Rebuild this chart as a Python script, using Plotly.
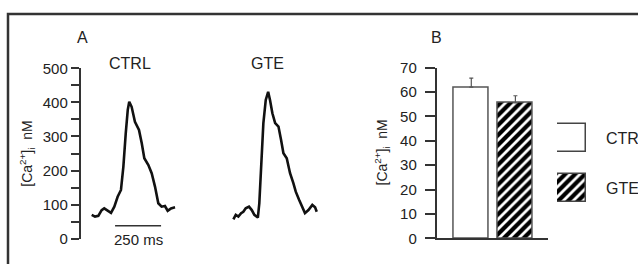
import plotly.graph_objects as go

# ---------------- data ----------------
# Panel A: representative [Ca2+]i transients (time in ms, nM)
CTRL_T = [0, 18, 36, 54, 68, 87, 105, 123, 141, 159, 172, 185, 196, 204, 217, 235, 257, 272,
          286, 308, 326, 344, 362, 380, 398, 413, 431, 453]
CTRL_CA = [70, 65, 67, 84, 89, 82, 76, 94, 123, 143, 211, 309, 378, 402, 387, 343, 319, 280,
           236, 216, 192, 153, 104, 94, 96, 82, 89, 92]

GTE_T = [0, 13, 27, 42, 54, 67, 85, 100, 114, 133, 141, 151, 163, 176, 189, 199, 212, 227,
         245, 259, 272, 290, 308, 326, 339, 357, 375, 389, 408, 429, 444, 453]
GTE_CA = [57, 70, 65, 75, 79, 89, 94, 84, 70, 62, 104, 221, 339, 407, 431, 407, 368, 339,
          329, 290, 251, 236, 192, 163, 138, 114, 89, 75, 84, 99, 92, 79]
GTE_OFFSET_MS = 770          # horizontal offset of the GTE trace in panel A

SCALE_START_MS = 127
SCALE_LEN_MS = 250
SCALE_Y = 38

# Panel B: mean diastolic [Ca2+]i
BAR_CATS = ["CTRL", "GTE"]
BAR_MEAN = [62.0, 55.6]
BAR_ERR = [3.7, 2.9]

A_YTICKS = [0, 100, 200, 300, 400, 500]
B_YTICKS = [0, 10, 20, 30, 40, 50, 60, 70]

# ---------------- layout helpers ----------------
W, H = 638, 264
def px(x): return x / W
def py(y): return 1 - y / H

FONT = "Liberation Sans, Arial, sans-serif"
TXT = "#222"
AX = "#333"
PATTERNS = ["", "/"]

fig = go.Figure()

# Panel A traces
fig.add_trace(go.Scatter(x=CTRL_T, y=CTRL_CA, mode="lines",
                         line=dict(color="#111", width=2.6),
                         xaxis="x", yaxis="y", showlegend=False, hoverinfo="skip"))
fig.add_trace(go.Scatter(x=[t + GTE_OFFSET_MS for t in GTE_T], y=GTE_CA, mode="lines",
                         line=dict(color="#111", width=2.6),
                         xaxis="x", yaxis="y", showlegend=False, hoverinfo="skip"))
# scale bar
fig.add_trace(go.Scatter(x=[SCALE_START_MS, SCALE_START_MS + SCALE_LEN_MS], y=[SCALE_Y, SCALE_Y],
                         mode="lines", line=dict(color="#333", width=1.4),
                         xaxis="x", yaxis="y", showlegend=False, hoverinfo="skip"))

# Panel B bars
pattern = dict(shape=PATTERNS, fgcolor="black", fgopacity=1, bgcolor="white", size=7, solidity=0.6)
fig.add_trace(go.Bar(x=BAR_CATS, y=BAR_MEAN, width=0.795,
                     marker=dict(color="white", line=dict(color="#555", width=1.5), pattern=pattern),
                     error_y=dict(type="data", array=BAR_ERR, arrayminus=[0] * len(BAR_ERR),
                                  symmetric=False, color="#555", thickness=1.2, width=2),
                     xaxis="x2", yaxis="y2", showlegend=False, hoverinfo="skip"))

# legend swatches
fig.add_trace(go.Bar(y=BAR_CATS, x=[1] * len(BAR_CATS), orientation="h", width=0.56,
                     marker=dict(color="white", line=dict(color="#444", width=1.5), pattern=pattern),
                     xaxis="x3", yaxis="y3", showlegend=False, hoverinfo="skip"))

ms_per_px = SCALE_LEN_MS / 46.0
a_left, a_right = 80.7, 330
a_x0 = (a_left - 91.7) * ms_per_px
a_x1 = a_x0 + (a_right - a_left) * ms_per_px

fig.update_layout(
    width=W, height=H, autosize=False, margin=dict(l=0, r=0, t=0, b=0, pad=0),
    paper_bgcolor="white", plot_bgcolor="white",
    font=dict(family=FONT, color=TXT, size=15),
    bargap=0,
    xaxis=dict(domain=[px(a_left), px(a_right)], range=[a_x0, a_x1], visible=False),
    yaxis=dict(domain=[py(238.7), py(68.3)], range=[0, 500], tickvals=A_YTICKS,
               showline=True, linecolor=AX, linewidth=1.8, ticks="outside", ticklen=8,
               tickwidth=1.6, tickcolor=AX, showgrid=False, zeroline=False,
               minor=dict(dtick=50, ticks="outside", ticklen=8, tickwidth=1.6, tickcolor=AX),
               tickfont=dict(size=15, color=TXT), anchor="x", automargin=False),
    xaxis2=dict(domain=[px(436.7), px(548)], range=[-0.784, 1.739], showline=True,
                linecolor=AX, linewidth=1.8, showticklabels=False, ticks="", showgrid=False,
                zeroline=False, anchor="y2", automargin=False),
    yaxis2=dict(domain=[py(238.3), py(67.7)], range=[0, 70], tickvals=B_YTICKS,
                showline=True, linecolor=AX, linewidth=1.8, ticks="outside", ticklen=10,
                tickwidth=1.6, tickcolor=AX, showgrid=False, zeroline=False,
                ticklabelstandoff=5, tickfont=dict(size=15, color=TXT), anchor="x2",
                automargin=False),
    xaxis3=dict(domain=[px(557), px(586)], range=[0, 1], visible=False, anchor="y3"),
    yaxis3=dict(domain=[py(213), py(113)], autorange="reversed", visible=False, anchor="x3"),
)

def note(text, x, y, size, **kw):
    d = dict(text=text, x=x, y=y, xref="paper", yref="paper", showarrow=False,
             xanchor="center", yanchor="middle", font=dict(size=size))
    d.update(kw)
    return d

ann = [
    note("A", px(82.5), py(38), 16),
    note("B", px(436.7), py(38), 16),
    note("CTRL", px(129.7), py(63), 16),
    note("GTE", px(267.5), py(63), 16),
]
ytitle = "[Ca<sup>2+</sup>]<sub>i</sub>  nM"
ann.append(note(ytitle, px(26.7), py(154), 14, textangle=-90))
ann.append(note(ytitle, px(382.5), py(153), 14, textangle=-90))
ann.append(note(f"{SCALE_LEN_MS} ms", SCALE_START_MS + SCALE_LEN_MS / 2, py(239.5), 15, xref="x"))
for cat in BAR_CATS:
    ann.append(note(cat, px(604), cat, 16, xanchor="left", yref="y3"))
fig.update_layout(annotations=ann)

fig.add_shape(type="rect", xref="paper", yref="paper", x0=px(8), y0=py(14), x1=px(700),
              y1=py(300), line=dict(color="#333", width=2.5), fillcolor="rgba(0,0,0,0)",
              layer="above")

fig.write_html("out.html", config={"responsive": False, "displayModeBar": False},
               post_script="document.body.style.margin='0';document.body.style.overflow='hidden';")
